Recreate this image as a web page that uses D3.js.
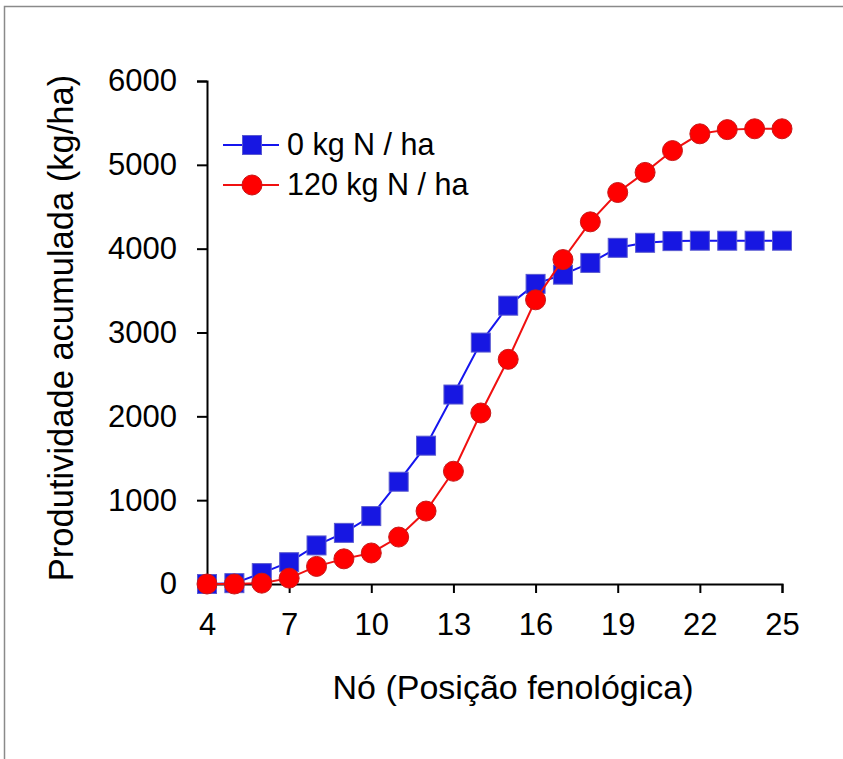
<!DOCTYPE html>
<html>
<head>
<meta charset="utf-8">
<script src="https://cdn.jsdelivr.net/npm/d3@7"></script>
<style>
  body { margin: 0; background: #fff; }
  text { font-family: "Liberation Sans", Arial, Helvetica, sans-serif; fill: #000; }
</style>
</head>
<body>
<div id="chart"></div>
<script>
// ==================================================================================================
// DATA
// ==================================================================================================

var nodes = [4, 5, 6, 7, 8, 9, 10, 11, 12, 13, 14, 15, 16, 17, 18, 19, 20, 21, 22, 23, 24, 25];
var yield0 = [0, 10, 130, 260, 460, 610, 810, 1220, 1650, 2260, 2880, 3320, 3580, 3690, 3830, 4010, 4070, 4090, 4095, 4095, 4095, 4095];
var yield120 = [0, 0, 10, 70, 210, 300, 370, 560, 870, 1345, 2040, 2680, 3390, 3870, 4320, 4670, 4910, 5170, 5370, 5420, 5430, 5430];
var xTicks = [4, 7, 10, 13, 16, 19, 22, 25];
var yTicks = [0, 1000, 2000, 3000, 4000, 5000, 6000];
var seriesNames = ["0 kg N / ha", "120 kg N / ha"];

// ==================================================================================================
// SVG
// ==================================================================================================

var svgWidth = 843;
var svgHeight = 759;

var svg = d3.select("#chart").append("svg").attr("width", svgWidth).attr("height", svgHeight);

// frame (top and left only)
svg.append("path")
  .attr("d", "M4.5,759 L4.5,6.5 L843,6.5")
  .attr("fill", "none")
  .attr("stroke", "#8a8a8a")
  .attr("stroke-width", 1.5);

var xScale = d3.scaleLinear().domain([4, 25]).range([207, 782]);
var yScale = d3.scaleLinear().domain([0, 6000]).range([584, 81]);

// ==================================================================================================
// AXES
// ==================================================================================================

var xAxis = svg.append("g")
  .attr("transform", `translate(0, ${yScale(0)})`)
  .call(d3.axisBottom(xScale).tickValues(xTicks).tickFormat(d3.format("d"))
    .tickSize(9).tickSizeOuter(9).tickPadding(20));

var yAxis = svg.append("g")
  .attr("transform", `translate(${xScale(4)}, 0)`)
  .call(d3.axisLeft(yScale).tickValues(yTicks).tickFormat(d3.format("d"))
    .tickSize(10).tickSizeOuter(10).tickPadding(20));

[xAxis, yAxis].forEach(a => {
  a.selectAll("path.domain").attr("stroke", "#000").attr("stroke-width", 2);
  a.selectAll(".tick line").attr("stroke", "#000").attr("stroke-width", 2);
  a.selectAll(".tick text").attr("font-size", 31).attr("fill", "#000")
    .style("font-family", "'Liberation Sans', Arial, Helvetica, sans-serif");
});

svg.append("text")
  .attr("x", 513)
  .attr("y", 699)
  .attr("text-anchor", "middle")
  .attr("font-size", 34)
  .text("Nó (Posição fenológica)");

svg.append("text")
  .attr("transform", "translate(73, 328) rotate(-90)")
  .attr("text-anchor", "middle")
  .attr("font-size", 34.5)
  .text("Produtividade acumulada (kg/ha)");

// ==================================================================================================
// SERIES
// ==================================================================================================

var data0 = nodes.map((n, i) => ({ x: n, y: yield0[i] }));
var data120 = nodes.map((n, i) => ({ x: n, y: yield120[i] }));

var line = d3.line().x(d => xScale(d.x)).y(d => yScale(d.y));
var sq = 19;

svg.append("path")
  .datum(data0)
  .attr("d", line)
  .attr("fill", "none")
  .attr("stroke", "#1515ee")
  .attr("stroke-width", 2);

svg.selectAll("rect.n0")
  .data(data0)
  .enter()
  .append("rect")
  .classed("n0", true)
  .attr("x", d => xScale(d.x) - sq / 2)
  .attr("y", d => yScale(d.y) - sq / 2)
  .attr("width", sq)
  .attr("height", sq)
  .attr("fill", "#1717e2")
  .attr("stroke", "#5a5ad0")
  .attr("stroke-width", 1);

svg.append("path")
  .datum(data120)
  .attr("d", line)
  .attr("fill", "none")
  .attr("stroke", "#f01010")
  .attr("stroke-width", 2);

svg.selectAll("circle.n120")
  .data(data120)
  .enter()
  .append("circle")
  .classed("n120", true)
  .attr("cx", d => xScale(d.x))
  .attr("cy", d => yScale(d.y))
  .attr("r", 10)
  .attr("fill", "#ff0000")
  .attr("stroke", "#c81818")
  .attr("stroke-width", 1);

// ==================================================================================================
// LEGEND
// ==================================================================================================

var legend = svg.append("g");
var rowY = [145, 185];

legend.append("line").attr("x1", 223).attr("x2", 279).attr("y1", rowY[0]).attr("y2", rowY[0])
  .attr("stroke", "#1515ee").attr("stroke-width", 2);
legend.append("rect").attr("x", 252 - sq / 2).attr("y", rowY[0] - sq / 2).attr("width", sq).attr("height", sq)
  .attr("fill", "#1717e2").attr("stroke", "#5a5ad0").attr("stroke-width", 1);

legend.append("line").attr("x1", 223).attr("x2", 279).attr("y1", rowY[1]).attr("y2", rowY[1])
  .attr("stroke", "#f01010").attr("stroke-width", 2);
legend.append("circle").attr("cx", 252).attr("cy", rowY[1]).attr("r", 10)
  .attr("fill", "#ff0000").attr("stroke", "#c81818").attr("stroke-width", 1);

seriesNames.forEach((name, i) => {
  legend.append("text")
    .attr("x", 287)
    .attr("y", rowY[i] + 10)
    .attr("font-size", 30.5)
    .text(name);
});
</script>
</body>
</html>
